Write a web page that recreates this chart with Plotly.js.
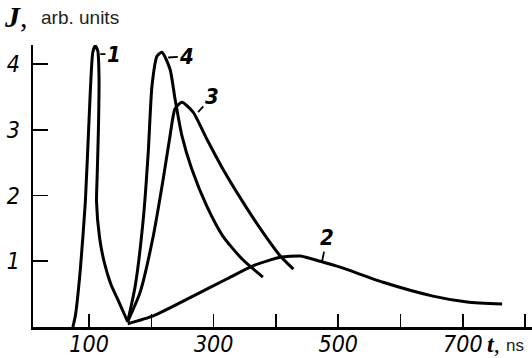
<!DOCTYPE html>
<html><head><meta charset="utf-8">
<script src="https://cdn.plot.ly/plotly-3.0.1.min.js"></script>
<style>html,body{margin:0;padding:0;background:#fff}#c{width:532px;height:358px}</style>
</head><body><div id="c"></div>
<script>
// Curve 1
var t1 = [74, 78, 86, 94, 100, 106, 110, 114, 116, 115, 113, 112, 117, 124, 135, 148, 162];
var y1 = [0, 0.17, 0.88, 1.9, 3.16, 4.18, 4.28, 4.2, 3.8, 3.0, 2.3, 1.9, 1.35, 1.0, 0.65, 0.38, 0.08];
// Curve 4
var t4 = [162, 174, 187, 195, 201, 209, 217, 230, 238, 249, 265, 289, 315, 346, 379];
var y4 = [0.08, 0.62, 1.64, 2.66, 3.67, 4.12, 4.18, 3.92, 3.47, 2.91, 2.4, 1.84, 1.38, 1.03, 0.76];
// Curve 3
var t3 = [162, 182, 203, 219, 230, 238, 249, 267, 289, 315, 347, 379, 407, 428];
var y3 = [0.08, 0.53, 1.38, 2.25, 2.91, 3.32, 3.42, 3.27, 2.86, 2.4, 1.9, 1.44, 1.08, 0.88];
// Curve 2
var t2 = [162, 203, 267, 321, 363, 407, 439, 471, 503, 572, 652, 707, 763];
var y2 = [0.05, 0.17, 0.47, 0.73, 0.93, 1.06, 1.08, 1.0, 0.91, 0.68, 0.47, 0.38, 0.35];

var xTickVals = [100, 200, 300, 400, 500, 600, 700, 800];
var xTickText = ['100', '', '300', '', '500', '', '700', ''];
var yTickVals = [1, 2, 3, 4];
var yTickText = ['1', '2', '3', '4'];
var curveLabels = ['1', '4', '3', '2'];

var line = {color: '#000', width: 3, shape: 'spline', smoothing: 0.6};
function tr(x, y) { return {x: x, y: y, mode: 'lines', line: line, hoverinfo: 'skip'}; }
var data = [tr(t1, y1), tr(t4, y4), tr(t3, y3), tr(t2, y2)];

var narrow = 'Liberation Sans Narrow, DejaVu Sans Condensed, Liberation Sans, sans-serif';
var labFont = {family: narrow, size: 22, color: '#000', style: 'italic', weight: 'bold'};
function lab(text, x, y, ax, ay) {
  return {text: text, x: x, y: y, ax: ax, ay: ay, axref: 'x', ayref: 'y', xref: 'x', yref: 'y',
    showarrow: true, arrowhead: 0, arrowwidth: 1.8, arrowcolor: '#000', standoff: 0, font: labFont};
}
var tickFont = {family: narrow, size: 23, color: '#000', style: 'italic'};

var layout = {
  width: 532, height: 358,
  margin: {l: 33, r: 0, t: 45, b: 31, pad: 0},
  paper_bgcolor: '#fff', plot_bgcolor: '#fff',
  showlegend: false,
  xaxis: {range: [10, 811], tickvals: xTickVals, ticktext: xTickText, ticks: 'inside', ticklen: 13,
    tickwidth: 1.6, tickcolor: '#000', showline: true, linecolor: '#000', linewidth: 2.5,
    showgrid: false, zeroline: false, tickfont: tickFont, ticklabelstandoff: -5},
  yaxis: {range: [0, 4.29], tickvals: yTickVals, ticktext: yTickText, ticks: 'inside', ticklen: 15,
    tickwidth: 1.8, tickcolor: '#000', showline: true, linecolor: '#000', linewidth: 2.5,
    showgrid: false, zeroline: false, tickfont: tickFont, ticklabelstandoff: 6},
  annotations: [
    lab(curveLabels[0], 118, 4.15, 140, 4.15),
    lab(curveLabels[1], 227, 4.1, 257, 4.12),
    lab(curveLabels[2], 275, 3.27, 297, 3.5),
    lab(curveLabels[3], 474, 1.0, 482, 1.36),
    {text: '<b><i>J</i></b>,', xref: 'paper', yref: 'paper', x: -0.062, y: 1.1, xanchor: 'left', yanchor: 'middle',
      showarrow: false, font: {family: 'Liberation Serif, serif', size: 30, color: '#000'}},
    {text: 'arb. units', xref: 'paper', yref: 'paper', x: 0.012, y: 1.098, xanchor: 'left', yanchor: 'middle',
      showarrow: false, font: {family: 'Liberation Sans, Arial, sans-serif', size: 19, color: '#222'}},
    {text: '<b><i>t</i></b>,', xref: 'paper', yref: 'paper', x: 0.906, y: -0.06, xanchor: 'left', yanchor: 'middle',
      showarrow: false, font: {family: 'Liberation Serif, serif', size: 24, color: '#000'}},
    {text: 'ns', xref: 'paper', yref: 'paper', x: 0.944, y: -0.064, xanchor: 'left', yanchor: 'middle',
      showarrow: false, font: {family: 'Liberation Sans, Arial, sans-serif', size: 17, color: '#222'}}
  ]
};
Plotly.newPlot('c', data, layout, {displayModeBar: false, staticPlot: true});
</script></body></html>
